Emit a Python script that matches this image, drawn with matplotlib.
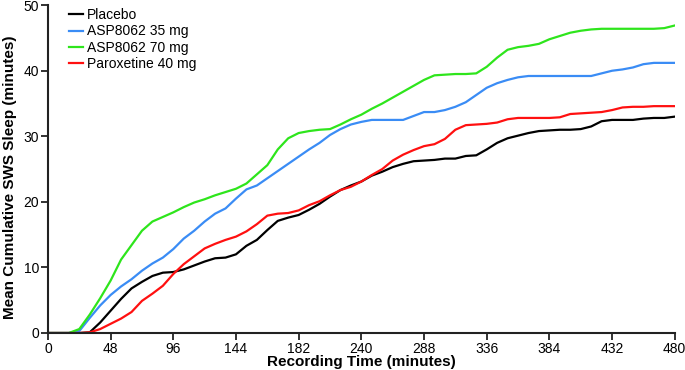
import matplotlib
matplotlib.use("Agg")
import matplotlib.pyplot as plt

# recording time grid (minutes)
time_min = list(range(0, 481, 8))

placebo = [0, 0, 0, 0, 0.1, 1.6, 3.4, 5.2, 6.8, 7.8, 8.7, 9.2, 9.3, 9.7, 10.3, 10.9,
           11.4, 11.5, 12.0, 13.3, 14.2, 15.7, 17.1, 17.6, 18.0, 18.8, 19.7, 20.8, 21.8,
           22.5, 23.1, 24.0, 24.6, 25.3, 25.8, 26.2, 26.3, 26.4, 26.6, 26.6, 27.0, 27.1,
           28.0, 29.0, 29.7, 30.1, 30.5, 30.8, 30.9, 31.0, 31.0, 31.1, 31.5, 32.3, 32.5,
           32.5, 32.5, 32.7, 32.8, 32.8, 33.0]
asp_35 = [0, 0, 0, 0.3, 2.3, 4.2, 5.8, 7.1, 8.2, 9.5, 10.6, 11.5, 12.8, 14.4, 15.6, 17.0,
          18.2, 19.0, 20.5, 21.9, 22.5, 23.6, 24.7, 25.8, 26.9, 28.0, 29.0, 30.2, 31.1,
          31.8, 32.2, 32.5, 32.5, 32.5, 32.5, 33.1, 33.7, 33.7, 34.0, 34.5, 35.2, 36.3,
          37.4, 38.1, 38.6, 39.0, 39.2, 39.2, 39.2, 39.2, 39.2, 39.2, 39.2, 39.6, 40.0,
          40.2, 40.5, 41.0, 41.2, 41.2, 41.2]
asp_70 = [0, 0, 0, 0.6, 2.8, 5.3, 8.0, 11.2, 13.4, 15.6, 17.0, 17.7, 18.4, 19.2, 19.9,
          20.4, 21.0, 21.5, 22.0, 22.8, 24.2, 25.6, 28.0, 29.7, 30.5, 30.8, 31.0, 31.1,
          31.8, 32.6, 33.3, 34.2, 35.0, 35.9, 36.8, 37.7, 38.6, 39.3, 39.4, 39.5, 39.5,
          39.6, 40.6, 42.0, 43.2, 43.6, 43.8, 44.1, 44.8, 45.3, 45.8, 46.1, 46.3, 46.4,
          46.4, 46.4, 46.4, 46.4, 46.4, 46.5, 46.9]
paroxetine = [0, 0, 0, 0, 0.1, 0.6, 1.4, 2.2, 3.2, 4.9, 6.0, 7.2, 9.0, 10.5, 11.7, 12.9,
              13.6, 14.2, 14.7, 15.5, 16.6, 17.9, 18.2, 18.3, 18.7, 19.5, 20.1, 21.0, 21.8,
              22.3, 23.1, 24.1, 25.0, 26.3, 27.2, 27.9, 28.5, 28.8, 29.6, 31.0, 31.7, 31.8,
              31.9, 32.1, 32.6, 32.8, 32.8, 32.8, 32.8, 32.9, 33.4, 33.5, 33.6, 33.7, 34.0,
              34.4, 34.5, 34.5, 34.6, 34.6, 34.6]

series = [
    ("Placebo", placebo, "black"),
    ("ASP8062 35 mg", asp_35, "#3a8cf5"),
    ("ASP8062 70 mg", asp_70, "#2ee51c"),
    ("Paroxetine 40 mg", paroxetine, "#ff1010"),
]

x_ticks = [0, 48, 96, 144, 192, 240, 288, 336, 384, 432, 480]
x_tick_labels = ["0", "48", "96", "144", "182", "240", "288", "336", "384", "432", "480"]
y_ticks = [0, 10, 20, 30, 40, 50]

plt.rcParams["font.family"] = ["Liberation Sans", "DejaVu Sans"]

fig = plt.figure(figsize=(6.85, 3.7), dpi=100)
ax = fig.add_axes([0.070, 0.100, 0.915, 0.886])

for label, values, color in series:
    ax.plot(time_min, values, color=color, lw=1.6, label=label)

ax.set_xlim(0, 480)
ax.set_ylim(0, 50)
ax.set_xticks(x_ticks)
ax.set_xticklabels(x_tick_labels)
ax.set_yticks(y_ticks)
ax.tick_params(labelsize=10, length=5, width=1.3, color="#222222", pad=1.5)

for side in ["top", "right"]:
    ax.spines[side].set_visible(False)
for side in ["left", "bottom"]:
    ax.spines[side].set_linewidth(1.5)
    ax.spines[side].set_color("#222222")

ax.set_xlabel("Recording Time (minutes)", fontsize=11, fontweight="bold")
ax.xaxis.set_label_coords(0.5, -0.068)
ax.set_ylabel("Mean Cumulative SWS Sleep (minutes)", fontsize=11, fontweight="bold")
ax.yaxis.set_label_coords(-0.05, 0.475)

ax.legend(loc="upper left", bbox_to_anchor=(0.018, 1.02), frameon=False, fontsize=10,
          handlelength=1.0, handletextpad=0.3, labelspacing=0.15, borderaxespad=0.3)

fig.savefig("out.png", dpi=100)
